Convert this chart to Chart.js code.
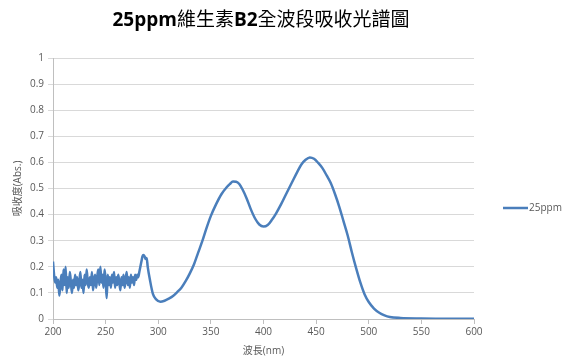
<!DOCTYPE html>
<html>
<head>
<meta charset="utf-8">
<script src="https://cdn.jsdelivr.net/npm/chart.js@4.4.0/dist/chart.umd.min.js"></script>
<style>
  html, body { margin: 0; padding: 0; background: #fff; }
  canvas { display: block; }
</style>
</head>
<body>
<canvas id="c" width="564" height="361"></canvas>
<script>
// 波長 (nm) 與吸收度 (Abs.)
const wavelengths = [
  200,201,202,203,204,205,206,207,208,209,210,211,212,213,214,215,216,217,218,219,
  220,221,222,223,224,225,226,227,228,229,230,231,232,233,234,235,236,237,238,239,
  240,241,242,243,244,245,246,247,248,249,250,251,252,253,254,255,256,257,258,259,
  260,261,262,263,264,265,266,267,268,269,270,271,272,273,274,275,276,277,278,279,
  280,281,282,283,284,285,286,287,288,289,290,292,295,298,302,306,310,314,318,322,
  326,330,334,338,342,346,350,355,360,365,368,371,374,377,380,384,388,392,396,400,
  404,408,412,417,422,427,432,436,440,444,448,452,456,460,464,468,472,476,480,484,
  488,492,496,500,505,510,515,520,530,550,575,600
];
const absorbance = [
  0.22,0.17,0.14,0.16,0.12,0.15,0.09,0.13,0.17,0.11,0.19,0.13,0.20,0.10,0.16,0.12,0.18,0.14,0.10,0.15,
  0.12,0.17,0.13,0.16,0.11,0.14,0.18,0.12,0.15,0.10,0.17,0.13,0.19,0.14,0.12,0.16,0.13,0.18,0.11,0.15,
  0.17,0.12,0.16,0.19,0.13,0.20,0.14,0.17,0.12,0.19,0.15,0.08,0.17,0.13,0.16,0.12,0.17,0.14,0.18,0.12,
  0.16,0.13,0.17,0.14,0.11,0.16,0.13,0.17,0.12,0.15,0.18,0.13,0.16,0.12,0.17,0.14,0.16,0.13,0.17,0.15,
  0.17,0.16,0.18,0.20,0.22,0.24,0.245,0.24,0.23,0.234,0.20,0.152,0.095,0.075,0.066,0.07,0.078,0.088,0.103,0.12,
  0.145,0.175,0.21,0.255,0.30,0.35,0.395,0.44,0.478,0.505,0.517,0.527,0.526,0.517,0.497,0.462,0.42,0.385,0.362,0.354,
  0.36,0.38,0.405,0.442,0.483,0.523,0.563,0.592,0.61,0.619,0.614,0.598,0.578,0.55,0.52,0.478,0.43,0.375,0.32,0.255,
  0.195,0.14,0.095,0.065,0.04,0.024,0.014,0.008,0.004,0.002,0.001,0.001
];
const seriesName = "25ppm";
const yTicks = [0, 0.1, 0.2, 0.3, 0.4, 0.5, 0.6, 0.7, 0.8, 0.9, 1];
const xTicks = [200, 250, 300, 350, 400, 450, 500, 550, 600];

const lineColor = "#4a7ebb";
const textColor = "#595959";
const font = "'Open Sans', 'Noto Sans CJK TC', sans-serif";

// 標題：英數粗體、中文一般
const titleParts = [
  ["25ppm", "bold"], ["維生素", "normal"], ["B2", "bold"], ["全波段吸收光譜圖", "normal"]
];

const titleAndLegend = {
  id: "titleAndLegend",
  afterDraw(chart) {
    const ctx = chart.ctx;
    ctx.save();
    ctx.fillStyle = "#000";
    ctx.textBaseline = "middle";
    let total = 0;
    const widths = titleParts.map(([t, w]) => {
      ctx.font = w + " 19px " + font;
      const m = ctx.measureText(t).width;
      total += m;
      return m;
    });
    let x = 261 - total / 2;
    titleParts.forEach(([t, w], i) => {
      ctx.font = w + " 19px " + font;
      ctx.fillText(t, x, 21);
      x += widths[i];
    });
    // legend
    ctx.strokeStyle = lineColor;
    ctx.lineWidth = 2.5;
    ctx.beginPath();
    ctx.moveTo(503, 208);
    ctx.lineTo(528, 208);
    ctx.stroke();
    ctx.fillStyle = textColor;
    ctx.font = "10px " + font;
    ctx.fillText(seriesName, 529, 208);
    ctx.restore();
  }
};

new Chart(document.getElementById("c"), {
  type: "line",
  data: {
    datasets: [{
      label: seriesName,
      data: wavelengths.map((w, i) => ({ x: w, y: absorbance[i] })),
      borderColor: lineColor,
      borderWidth: 2.5,
      pointRadius: 0,
      cubicInterpolationMode: "monotone",
      fill: false
    }]
  },
  options: {
    responsive: false,
    animation: false,
    layout: { padding: { left: 12, right: 90, top: 58, bottom: 4 } },
    plugins: {
      legend: { display: false },
      title: { display: false },
      tooltip: { enabled: false }
    },
    scales: {
      x: {
        type: "linear",
        min: 200, max: 600,
        afterBuildTicks: s => { s.ticks = xTicks.map(v => ({ value: v })); },
        grid: { drawOnChartArea: false, drawTicks: true, tickLength: 5, color: "#bfbfbf" },
        border: { color: "#bfbfbf" },
        ticks: { color: textColor, font: { family: font, size: 10 }, padding: 2, maxRotation: 0 },
        title: { display: true, text: "波長(nm)", color: textColor, font: { family: font, size: 10 }, padding: { top: 3, bottom: 0 } },
        afterFit: s => { s.height = 38; }
      },
      y: {
        min: 0, max: 1,
        afterBuildTicks: s => { s.ticks = yTicks.map(v => ({ value: v })); },
        grid: { color: "#d9d9d9", tickLength: 5 },
        border: { color: "#bfbfbf" },
        ticks: { color: textColor, font: { family: font, size: 10 }, padding: 4, callback: v => String(v) },
        title: { display: true, text: "吸收度(Abs.)", color: textColor, font: { family: font, size: 10 }, padding: 0 },
        afterFit: s => { s.width = 41; }
      }
    }
  },
  plugins: [titleAndLegend]
});
</script>
</body>
</html>
